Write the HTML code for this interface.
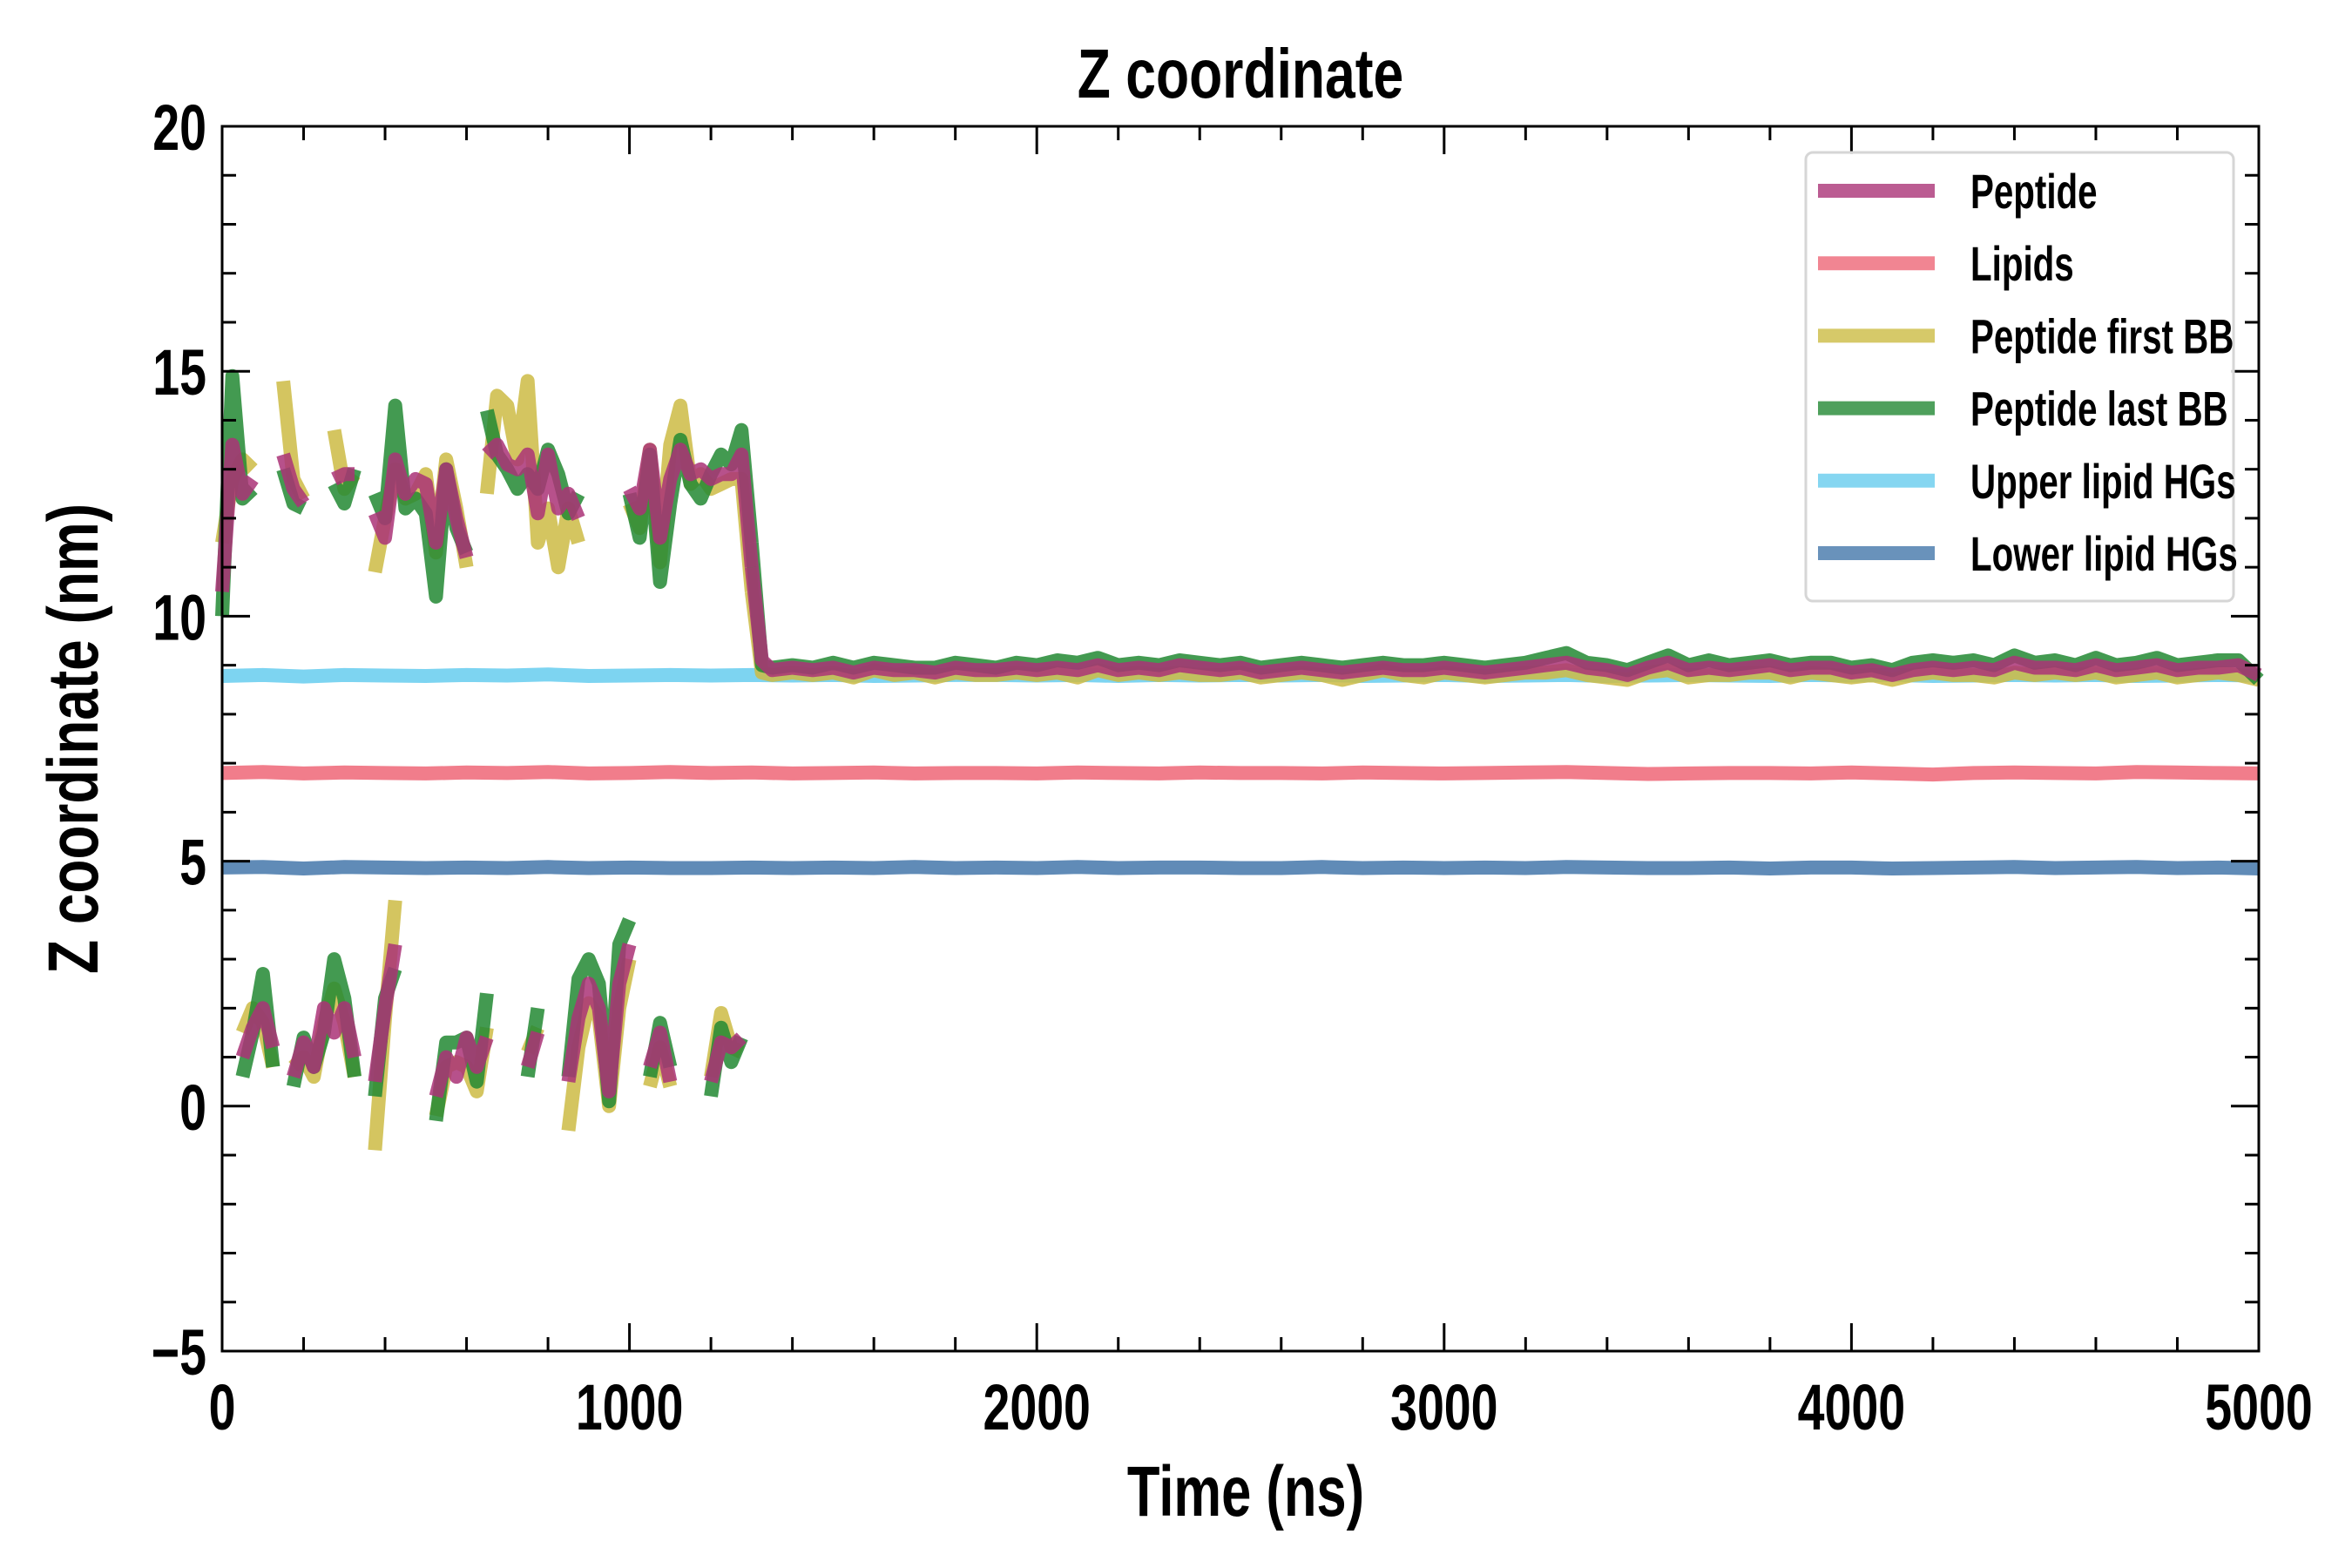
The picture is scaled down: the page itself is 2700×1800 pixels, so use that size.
<!DOCTYPE html>
<html><head><meta charset="utf-8">
<style>
html,body{margin:0;padding:0;background:#fff;}
svg{display:block;}
text{font-family:"Liberation Sans",sans-serif;font-weight:bold;fill:#000;}
</style></head>
<body>
<svg id="chart" width="2700" height="1800" viewBox="0 0 2700 1800" xmlns="http://www.w3.org/2000/svg">
<text x="0" y="0" font-size="80" text-anchor="middle" transform="translate(1424 112) scale(0.78 1)">Z coordinate</text>
<text x="0" y="0" font-size="82" text-anchor="middle" transform="translate(1430 1740) scale(0.75 1)">Time (ns)</text>
<text x="0" y="0" font-size="82" text-anchor="middle" transform="translate(112 848) rotate(-90) scale(0.78 1)">Z coordinate (nm)</text>
<g id="series"></g>
<g id="axes"></g>
<g id="legend"></g>
</svg>
<script>
// ---- data ----
const earlyTimes = [0,25,50,75,100,125,150,175,200,225,250,275,300,325,350,375,400,425,450,475,500,525,550,575,600,625,650,675,700,725,750,775,800,825,850,875,900,925,950,975,1000,1025,1050,1075,1100,1125,1150,1175,1200,1225,1250,1275,1300];
const peptideHigh = [10.5,13.5,12.5,12.8,null,null,13.3,12.6,12.3,null,null,12.8,12.9,12.9,null,12.1,11.6,13.2,12.5,12.8,12.7,11.5,13.0,12.0,11.2,null,13.3,13.5,13.1,13.0,13.3,12.1,13.3,12.2,12.5,12.0,null,null,13.0,null,12.6,12.2,13.4,11.6,12.8,13.4,12.9,13.0,12.8,12.9,12.9,13.3,11.0];
const peptideLow = [0.1,null,1.0,1.6,2.0,1.2,null,0.6,1.3,0.8,2.0,1.5,2.0,1.0,null,0.5,2.0,3.3,null,0.4,null,0.2,1.0,0.6,1.4,0.8,1.4,null,1.0,null,0.8,1.5,null,null,0.5,1.8,2.5,2.0,0.3,2.5,3.3,null,0.8,1.5,0.5,null,0.4,null,0.5,1.3,1.2,1.4,null];
const firstHigh = [11.5,12.8,13.2,13.0,null,null,14.8,12.8,12.4,null,null,13.8,12.6,12.9,null,10.9,12.0,13.0,12.4,12.5,12.9,11.3,13.2,12.2,11.0,null,12.5,14.5,14.3,13.2,14.8,11.5,12.2,11.0,12.2,11.5,null,null,13.6,null,12.3,11.8,13.4,11.1,13.5,14.3,12.7,12.9,12.6,12.7,12.8,12.8,10.5];
const firstLow = [-0.3,null,1.5,2.0,1.7,0.8,null,0.8,1.0,0.6,1.7,2.4,1.7,0.6,null,-0.9,1.8,4.2,null,-0.3,null,-0.2,0.8,0.9,0.8,0.3,1.6,null,1.0,null,1.1,1.6,null,null,-0.5,1.2,2.1,1.8,0.0,2.0,3.0,null,0.4,1.2,0.4,null,-0.8,null,0.6,1.9,1.2,1.1,null];
const lastHigh = [10.0,14.9,12.4,12.6,null,null,13.0,12.3,12.2,null,null,12.7,12.3,13.0,null,12.5,12.0,14.3,12.2,12.4,12.1,10.4,13.0,11.8,11.3,null,14.2,13.3,13.0,12.6,12.9,12.6,13.4,12.9,12.1,12.5,null,null,12.7,null,12.5,11.6,13.3,10.7,12.3,13.6,12.7,12.4,12.9,13.3,13.1,13.8,11.5];
const lastLow = [-0.4,null,0.6,1.5,2.7,0.8,null,0.4,1.4,0.8,1.5,3.0,2.2,0.6,null,0.2,2.2,2.8,null,0.0,null,-0.3,1.3,1.3,1.4,0.5,2.3,null,1.3,null,0.6,2.0,null,null,0.6,2.6,3.0,2.5,0.1,3.3,3.8,null,0.6,1.7,0.8,null,-0.2,null,0.2,1.6,0.9,1.4,null];
const lateTimes = [1300,1325,1350,1400,1450,1500,1550,1600,1650,1700,1750,1800,1850,1900,1950,2000,2050,2100,2150,2200,2250,2300,2350,2400,2450,2500,2550,2600,2650,2700,2750,2800,2850,2900,2950,3000,3050,3100,3150,3200,3250,3300,3350,3400,3450,3500,3550,3600,3650,3700,3750,3800,3850,3900,3950,4000,4050,4100,4150,4200,4250,4300,4350,4400,4450,4500,4550,4600,4650,4700,4750,4800,4850,4900,4950,5000];
const peptideLate = [11.0,9.1,8.9,8.95,8.9,8.95,8.85,8.95,8.9,8.9,8.85,8.95,8.9,8.9,8.95,8.9,8.95,8.9,9.0,8.9,8.95,8.9,9.0,8.95,8.9,8.95,8.85,8.9,8.95,8.9,8.85,8.9,8.95,8.9,8.9,8.95,8.9,8.85,8.9,8.95,9.0,9.05,8.95,8.9,8.8,8.95,9.05,8.9,8.95,8.9,8.95,9.0,8.9,8.95,8.95,8.85,8.9,8.8,8.9,8.95,8.9,8.95,8.9,9.05,8.95,8.95,8.9,9.0,8.9,8.95,9.0,8.9,8.95,8.95,9.0,8.8];
const firstLate = [10.5,8.85,8.8,8.85,8.8,8.85,8.75,8.9,8.8,8.85,8.75,8.85,8.8,8.8,8.85,8.8,8.85,8.75,8.9,8.8,8.85,8.8,8.85,8.8,8.8,8.85,8.75,8.8,8.85,8.8,8.7,8.8,8.9,8.8,8.75,8.85,8.8,8.75,8.8,8.85,8.85,8.9,8.8,8.75,8.7,8.85,8.9,8.75,8.8,8.8,8.85,8.85,8.75,8.85,8.8,8.75,8.8,8.7,8.8,8.85,8.8,8.8,8.75,8.85,8.8,8.85,8.8,8.85,8.75,8.8,8.85,8.75,8.8,8.85,8.8,8.7];
const lastLate = [11.5,9.0,8.95,9.0,8.95,9.05,8.95,9.05,9.0,8.95,8.95,9.05,9.0,8.95,9.05,9.0,9.1,9.05,9.15,9.0,9.05,9.0,9.1,9.05,9.0,9.05,8.95,9.0,9.05,9.0,8.95,9.0,9.05,9.0,9.0,9.05,9.0,8.95,9.0,9.05,9.15,9.25,9.05,9.0,8.9,9.05,9.2,9.0,9.1,9.0,9.05,9.1,9.0,9.05,9.05,8.95,9.0,8.9,9.05,9.1,9.05,9.1,9.0,9.2,9.05,9.1,9.0,9.15,9.0,9.05,9.15,9.0,9.05,9.1,9.1,8.7];
const flatTimes = [0,100,200,300,400,500,600,700,800,900,1000,1100,1200,1300,1400,1500,1600,1700,1800,1900,2000,2100,2200,2300,2400,2500,2600,2700,2800,2900,3000,3100,3200,3300,3400,3500,3600,3700,3800,3900,4000,4100,4200,4300,4400,4500,4600,4700,4800,4900,5000];
const upperHG = [8.78,8.8,8.77,8.8,8.79,8.78,8.8,8.79,8.81,8.78,8.79,8.8,8.79,8.8,8.79,8.8,8.78,8.79,8.8,8.8,8.79,8.8,8.78,8.8,8.79,8.8,8.79,8.8,8.78,8.79,8.8,8.78,8.79,8.8,8.78,8.79,8.8,8.79,8.78,8.8,8.79,8.8,8.78,8.79,8.8,8.79,8.8,8.78,8.79,8.8,8.79];
const lipids = [6.8,6.82,6.79,6.81,6.8,6.79,6.81,6.8,6.82,6.79,6.8,6.82,6.8,6.81,6.79,6.8,6.81,6.79,6.8,6.8,6.79,6.81,6.8,6.79,6.81,6.8,6.8,6.79,6.81,6.8,6.79,6.8,6.81,6.82,6.8,6.78,6.79,6.8,6.8,6.79,6.81,6.79,6.77,6.8,6.81,6.8,6.79,6.82,6.81,6.8,6.79];
const lowerHG = [4.87,4.88,4.85,4.88,4.87,4.86,4.87,4.86,4.88,4.86,4.87,4.86,4.86,4.87,4.86,4.87,4.86,4.88,4.86,4.87,4.86,4.88,4.86,4.87,4.87,4.86,4.86,4.88,4.86,4.87,4.86,4.87,4.86,4.88,4.87,4.86,4.86,4.87,4.85,4.87,4.87,4.85,4.86,4.87,4.88,4.86,4.87,4.88,4.86,4.87,4.85];
const xTicks = [0,1000,2000,3000,4000,5000];
const yTicks = [-5,0,5,10,15,20];
const yTickLabels = ["\u22125","0","5","10","15","20"];
const legendLabels = ["Peptide","Lipids","Peptide first BB","Peptide last BB","Upper lipid HGs","Lower lipid HGs"];

// ---- axes functions ----
const L=255,R=2593,T=145,B=1551;
const xScale = t => L + (t-0)/(5000-0)*(R-L);
const yScale = v => B - (v-(-5))/(20-(-5))*(B-T);
const NS="http://www.w3.org/2000/svg";
const gS=document.getElementById('series'), gA=document.getElementById('axes'), gL=document.getElementById('legend');

function mk(tag, attrs, parent){
  const e=document.createElementNS(NS,tag);
  for(const k in attrs) e.setAttribute(k,attrs[k]);
  parent.appendChild(e); return e;
}
function drawSeries(times, vals, color, name){
  let segs=[], cur=[];
  for(let i=0;i<times.length;i++){
    if(vals[i]===null||vals[i]===undefined){ if(cur.length) segs.push(cur); cur=[]; }
    else cur.push(xScale(times[i]).toFixed(1)+','+yScale(vals[i]).toFixed(1));
  }
  if(cur.length) segs.push(cur);
  segs.forEach(s=>{
    if(s.length===1) s.push(s[0]);
    const p=mk('polyline',{points:s.join(' '),fill:'none',stroke:color,'stroke-width':16,'stroke-opacity':0.85,'stroke-linejoin':'round','stroke-linecap':'butt'},gS);
    
    
  });
}
const C={pep:'#aa3377',lip:'#ee6677',first:'#ccbb44',last:'#228833',up:'#66ccee',low:'#4477aa'};
drawSeries(flatTimes, upperHG, C.up, 'upper-lipid-hgs-line');
drawSeries(flatTimes, lipids, C.lip, 'lipids-line');
drawSeries(flatTimes, lowerHG, C.low, 'lower-lipid-hgs-line');
drawSeries(earlyTimes, firstHigh, C.first, 'peptide-first-bb-line');
drawSeries(earlyTimes, firstLow, C.first, 'peptide-first-bb-line');
drawSeries(lateTimes, firstLate, C.first, 'peptide-first-bb-line');
drawSeries(earlyTimes, lastHigh, C.last, 'peptide-last-bb-line');
drawSeries(earlyTimes, lastLow, C.last, 'peptide-last-bb-line');
drawSeries(lateTimes, lastLate, C.last, 'peptide-last-bb-line');
drawSeries(earlyTimes, peptideHigh, C.pep, 'peptide-line');
drawSeries(earlyTimes, peptideLow, C.pep, 'peptide-line');
drawSeries(lateTimes, peptideLate, C.pep, 'peptide-line');

const fr=mk('rect',{x:L,y:T,width:R-L,height:B-T,fill:'none',stroke:'#000','stroke-width':3},gA);


for(let t=0;t<=5000;t+=200){
  const x=xScale(t), major=(t%1000===0), len=major?32:16;
  mk('line',{x1:x,y1:B,x2:x,y2:B-len,stroke:'#000','stroke-width':3},gA);
  mk('line',{x1:x,y1:T,x2:x,y2:T+len,stroke:'#000','stroke-width':3},gA);
}
xTicks.forEach(t=>{
  const tx=mk('text',{x:0,y:0,'font-size':74,'text-anchor':'middle',transform:'translate('+xScale(t)+' '+(B+90)+') scale(0.75 1)'},gA);
  tx.textContent=String(t);
  
  
});
for(let v=-5;v<=20;v+=1){
  const y=yScale(v), major=(v%5===0), len=major?32:16;
  mk('line',{x1:L,y1:y,x2:L+len,y2:y,stroke:'#000','stroke-width':3},gA);
  mk('line',{x1:R,y1:y,x2:R-len,y2:y,stroke:'#000','stroke-width':3},gA);
}
yTicks.forEach((v,i)=>{
  const tx=mk('text',{x:0,y:0,'font-size':74,'text-anchor':'end',transform:'translate('+(L-18)+' '+(yScale(v)+27)+') scale(0.75 1)'},gA);
  tx.textContent=yTickLabels[i];
  
  
});

const lb=mk('rect',{x:2073,y:175,width:491,height:515,rx:8,fill:'#fff','fill-opacity':0.85,stroke:'#d6d6d6','stroke-width':3},gL);


const legColors=[C.pep,C.lip,C.first,C.last,C.up,C.low];
legendLabels.forEach((lab,i)=>{
  const y=219+i*83.2;
  const ln=mk('line',{x1:2087,y1:y,x2:2221,y2:y,stroke:legColors[i],'stroke-width':16,'stroke-opacity':0.8},gL);
  
  
  const tx=mk('text',{x:0,y:0,'font-size':56,transform:'translate(2262 '+(y+20)+') scale(0.72 1)'},gL);
  tx.textContent=lab;
  
  
});
</script>
</body></html>
